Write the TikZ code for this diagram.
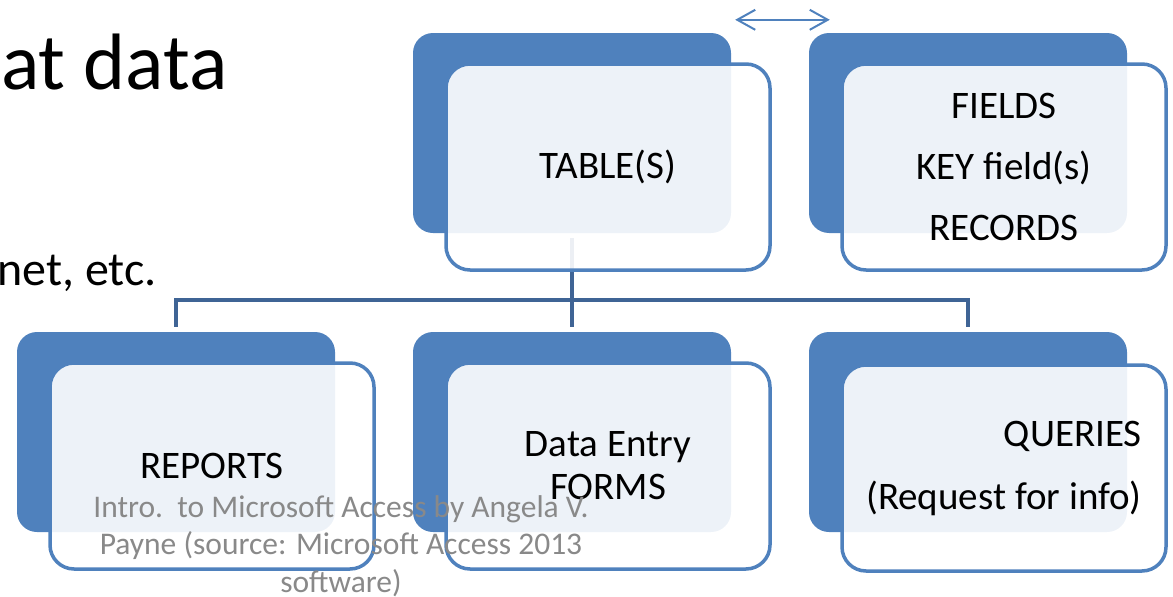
\documentclass[tikz,border=0pt]{standalone}
\usepackage{fontspec}
\setmainfont{Carlito}
\usetikzlibrary{arrows.meta}
\definecolor{accent}{RGB}{79,129,189}
\definecolor{linkblue}{RGB}{63,100,149}
\definecolor{notegray}{RGB}{137,137,137}
\tikzset{
  backbox/.style={fill=accent, rounded corners=20pt, minimum width=318pt, minimum height=200pt, inner sep=0pt},
  frontbox/.style={draw=accent, line width=3.5pt, fill=white, fill opacity=0.9, text opacity=1,
    rounded corners=24pt, minimum width=324pt, minimum height=206pt, inner sep=0pt, align=center},
  link/.style={draw=linkblue, line width=4pt}
}
\begin{document}
\begin{tikzpicture}[x=1pt,y=-1pt]
\useasboundingbox (0,0) rectangle (1173,597);
%slide text
\path (1,89) node[anchor=base west, inner sep=0pt, font=\fontsize{80}{94}\selectfont] (title) {at data};
\path (157,285) node[anchor=base east, inner sep=0pt, font=\fontsize{48}{58}\selectfont] (bullet) {net, etc.};
%back boxes
\path (572,133) node[backbox] (tableback) {}
	(968,133) node[backbox] (fieldsback) {}
	(176,432) node[backbox] (reportsback) {}
	(572,432) node[backbox] (formsback) {}
	(968,432) node[backbox] (queriesback) {};
%links
\coordinate (bus) at (572,300);
\draw[link] ([yshift=-5pt]tableback.south) -- ([yshift=5pt]formsback.north);
\draw[link] ([yshift=5pt]reportsback.north) |- (bus) -| ([yshift=5pt]queriesback.north);
%front boxes
\path (608,167) node[frontbox, font=\fontsize{39}{47}\selectfont] (table) {TABLE(S)};
\path (1004,167) node[frontbox, font=\fontsize{39}{61}\selectfont] (fields) {FIELDS\\KEY field(s)\\RECORDS};
\path (212,466) node[frontbox, font=\fontsize{39}{47}\selectfont] (reports) {REPORTS};
\path (608,466) node[frontbox, font=\fontsize{39}{43}\selectfont] (forms) {Data Entry\\FORMS};
\path (1004,468) node[frontbox, font=\fontsize{39}{63}\selectfont, align=right] (queries) {QUERIES\\(Request for info)};
%arrow
\coordinate (al) at ([xshift=4pt,yshift=13pt]tableback.north east);
\coordinate (ar) at ([xshift=21pt,yshift=13pt]fieldsback.north west);
\draw[accent, line width=2pt, {Straight Barb[length=18pt,width=20pt]}-{Straight Barb[length=18pt,width=20pt]}] (al) -- (ar);
%note
\path (341,592) node[anchor=base, inner sep=0pt, align=center, text=notegray, font=\fontsize{31.5}{37.5}\selectfont] (note)
	{Intro.\ \ to Microsoft Access by Angela V.\\Payne (source: Microsoft Access 2013\\software)};
\end{tikzpicture}
\end{document}
